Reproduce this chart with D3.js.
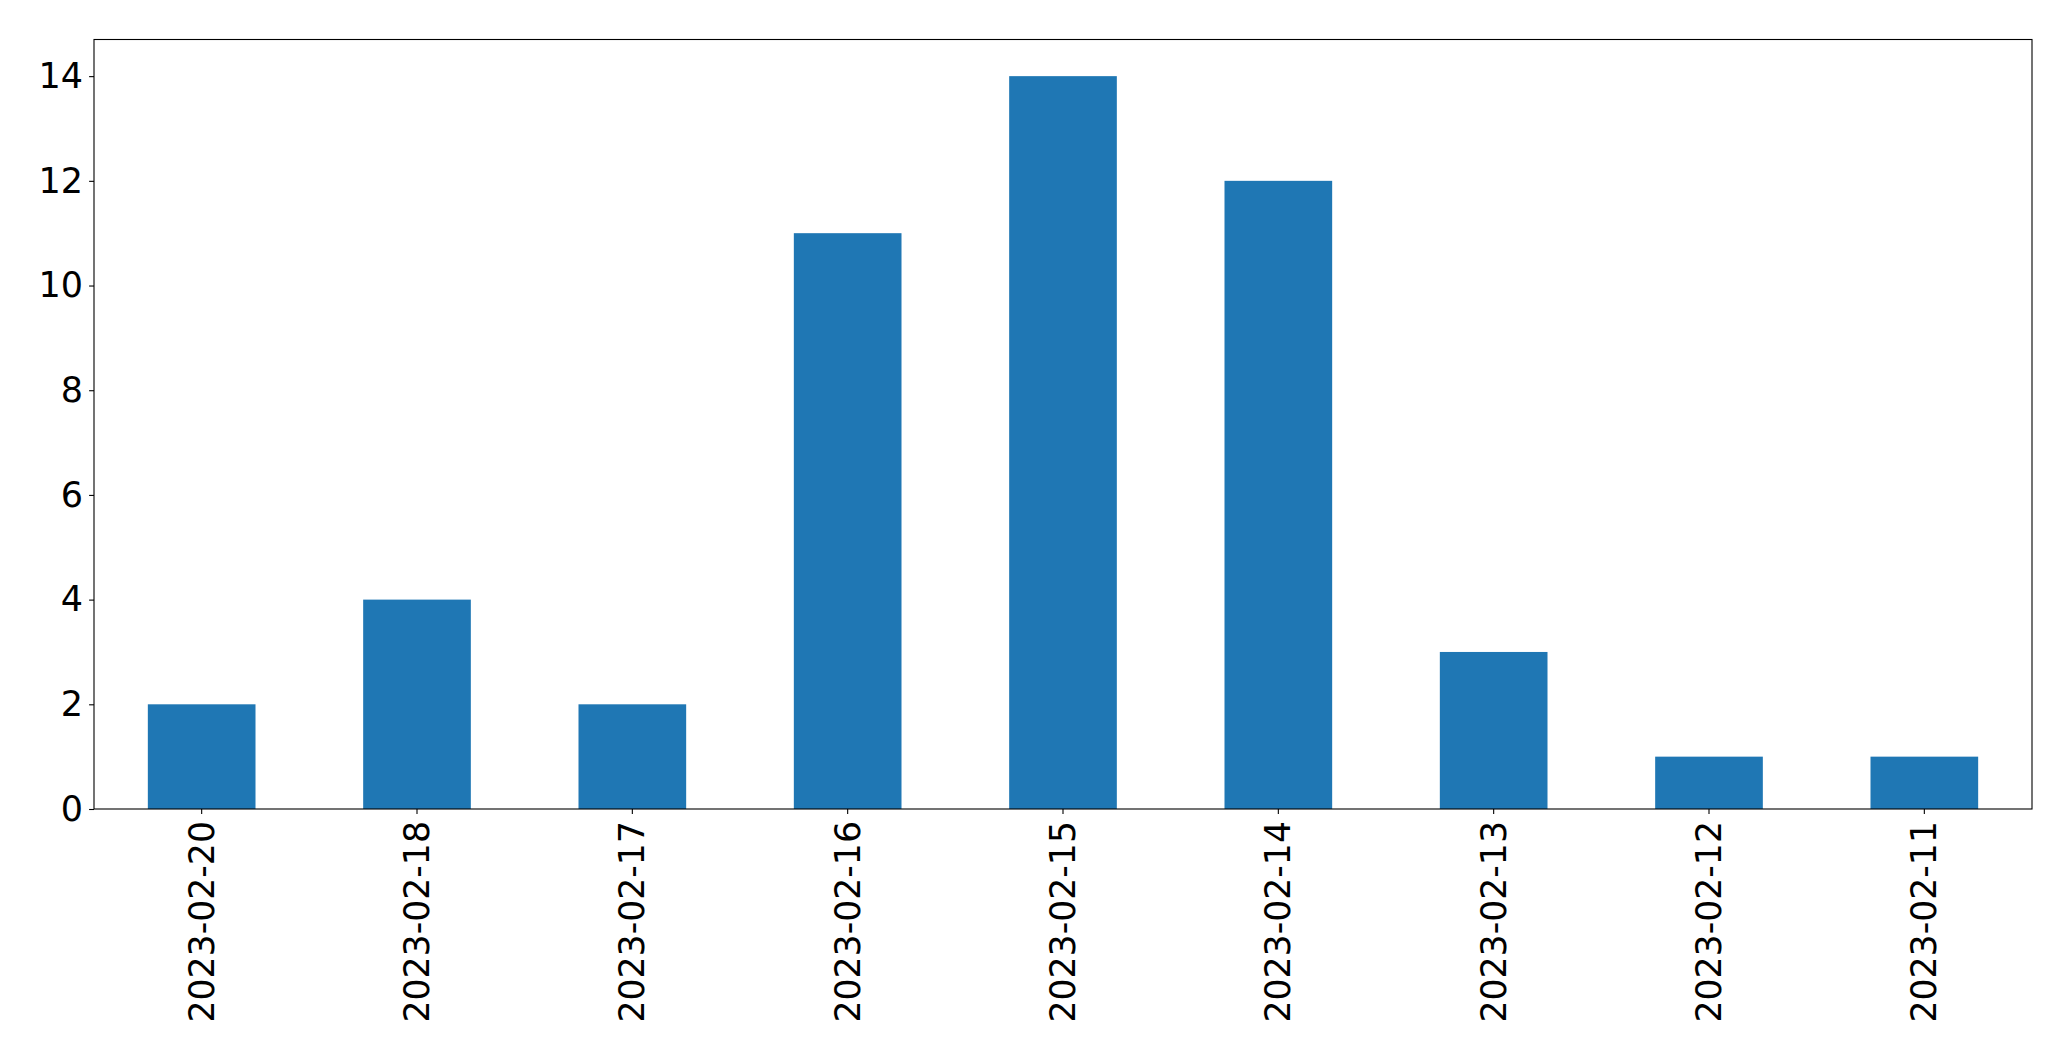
<!DOCTYPE html>
<html>
<head>
<meta charset="utf-8">
<script src="https://cdn.jsdelivr.net/npm/d3@7"></script>
<style>
  html, body { margin: 0; padding: 0; background: #fff; }
  svg { display: block; }
  text { font-family: "DejaVu Sans", sans-serif; }
</style>
</head>
<body>
<svg id="chart" width="2071" height="1061"></svg>
<script>
const categories = ["2023-02-20", "2023-02-18", "2023-02-17", "2023-02-16", "2023-02-15", "2023-02-14", "2023-02-13", "2023-02-12", "2023-02-11"];
const values = [2, 4, 2, 11, 14, 12, 3, 1, 1];
const yTicks = [0, 2, 4, 6, 8, 10, 12, 14];

const W = 2071, H = 1061;
const m = { left: 94, right: W - 2032, top: 39.5, bottom: H - 809 };
const svg = d3.select("#chart");
const iw = W - m.left - m.right, ih = H - m.top - m.bottom;
const g = svg.append("g").attr("transform", `translate(${m.left},${m.top})`);

const x = d3.scaleBand().domain(categories).range([0, iw]).paddingInner(0.5).paddingOuter(0.25);
const yMax = d3.max(values) * 1.05;
const y = d3.scaleLinear().domain([0, yMax]).range([ih, 0]);

g.selectAll("rect.bar").data(values).join("rect")
  .attr("class", "bar")
  .attr("x", (d, i) => x(categories[i]))
  .attr("width", x.bandwidth())
  .attr("y", d => y(d))
  .attr("height", d => y(0) - y(d))
  .attr("fill", "#1f77b4");

const fs = 35;
const yAxis = g.append("g").call(d3.axisLeft(y).tickValues(yTicks).tickSize(4.9).tickPadding(6).tickFormat(d3.format("d")));
yAxis.select(".domain").remove();
yAxis.selectAll("line").attr("stroke", "#000").attr("stroke-width", 1.1);
yAxis.selectAll("text").attr("font-size", fs).attr("fill", "#000").attr("font-family", "DejaVu Sans");

const xAxis = g.append("g").attr("transform", `translate(0,${ih})`)
  .call(d3.axisBottom(x).tickSize(4.9).tickPadding(6));
xAxis.select(".domain").remove();
xAxis.selectAll("line").attr("stroke", "#000").attr("stroke-width", 1.1);
xAxis.selectAll("text")
  .attr("font-size", 34.7).attr("fill", "#000").attr("font-family", "DejaVu Sans")
  .attr("transform", "rotate(-90)")
  .attr("text-anchor", "end")
  .attr("x", -12)
  .attr("y", 0)
  .attr("dy", "0.35em");

g.append("rect").attr("x", 0).attr("y", 0).attr("width", iw).attr("height", ih)
  .attr("fill", "none").attr("stroke", "#000").attr("stroke-width", 1.1);
</script>
</body>
</html>
